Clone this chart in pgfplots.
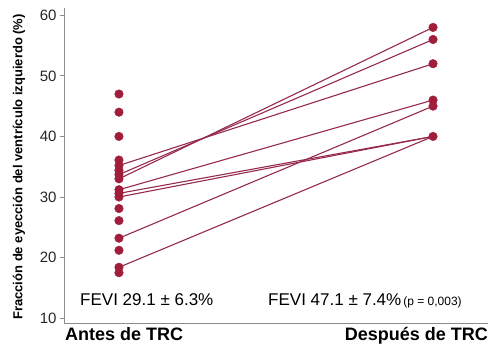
\documentclass[border=0pt]{standalone}
\usepackage{pgfplots}
\pgfplotsset{compat=1.18}
\usepackage{fontspec}
\setmainfont{Liberation Sans}
\definecolor{dotred}{HTML}{A01E3C}
\definecolor{linered}{HTML}{962A4C}
\definecolor{axgray}{HTML}{8C8C8C}
\begin{document}
\begin{tikzpicture}[x=1pt,y=1pt]
\path (0,0) rectangle (490,350);
\begin{axis}[
  at={(64pt,27pt)}, anchor=south west, scale only axis,
  width=424pt, height=315pt,
  xmin=-0.175, xmax=1.175, ymin=9.2, ymax=61.2,
  axis x line=bottom, axis y line=left,
  axis line style={axgray, -, line width=0.8pt},
  xtick=\empty,
  ytick={10,20,...,60},
  tick style={axgray, line width=0.8pt},
  major tick length=4pt,
  tick align=outside,
  yticklabel style={font=\fontsize{15}{17}\selectfont, text=black!85},
  /pgf/number format/assume math mode=true,
  clip=false,
]
% paired measurements (before -> after)
\addplot[linered, line width=1.1pt] coordinates {(0,33.0) (1,58)};
\addplot[linered, line width=1.1pt] coordinates {(0,33.7) (1,56)};
\addplot[linered, line width=1.1pt] coordinates {(0,35.2) (1,52)};
\addplot[linered, line width=1.1pt] coordinates {(0,31.2) (1,46)};
\addplot[linered, line width=1.1pt] coordinates {(0,30.6) (1,40)};
\addplot[linered, line width=1.1pt] coordinates {(0,30.0) (1,40)};
\addplot[linered, line width=1.1pt] coordinates {(0,23.2) (1,45)};
\addplot[linered, line width=1.1pt] coordinates {(0,18.4) (1,40)};
% individual patients
\addplot[only marks, mark=*, mark size=4.3pt, dotred, mark options={draw=none, fill=dotred}] coordinates {
  (0,47) (0,44) (0,40) (0,36.1) (0,35.2) (0,34.4) (0,33.7) (0,33.0)
  (0,31.2) (0,30.6) (0,30.0) (0,28.1) (0,26.1) (0,23.2) (0,21.2)
  (0,18.4) (0,17.5)
  (1,58) (1,56) (1,52) (1,46) (1,45) (1,40)
};
\node[anchor=base west, font=\fontsize{17}{20}\selectfont, inner sep=0pt]
  at (axis cs:-0.124,12.15) {FEVI 29.1 ± 6.3\%};
\node[anchor=base west, font=\fontsize{17}{20}\selectfont, inner sep=0pt]
  at (axis cs:0.4745,12.15) {FEVI 47.1 ± 7.4\%{\fontsize{12}{14}\selectfont\,(p = 0,003)}};
\end{axis}
\node[anchor=base west, font=\bfseries\fontsize{18}{20}\selectfont, inner sep=0pt]
  at (65,9.5) {Antes de TRC};
\node[anchor=base east, font=\bfseries\fontsize{18}{20}\selectfont, inner sep=0pt]
  at (488,9.5) {Después de TRC};
\node[rotate=90, font=\bfseries\fontsize{13}{15}\selectfont, inner sep=0pt]
  at (19,183) {Fracción de eyección del ventrículo izquierdo (\%)};
\end{tikzpicture}
\end{document}
